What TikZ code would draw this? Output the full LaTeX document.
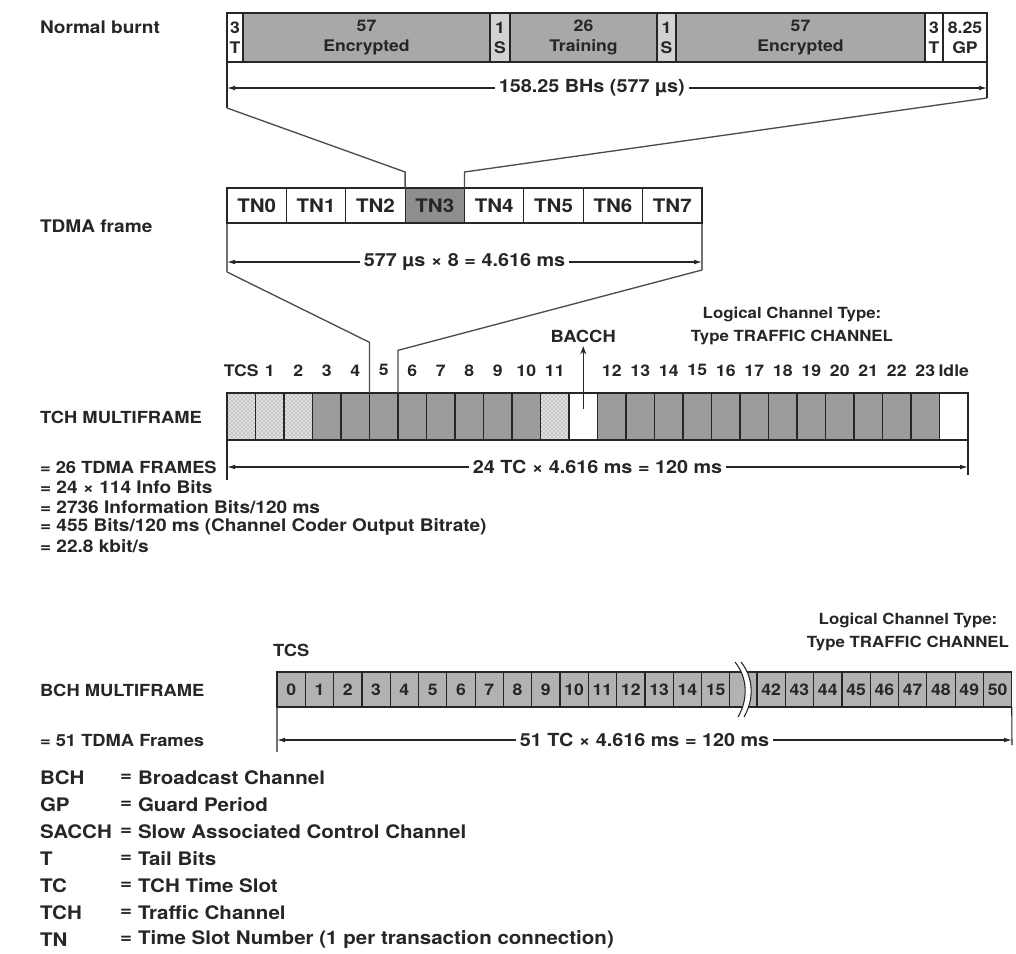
\documentclass[tikz,border=0pt]{standalone}
\usepackage{fontspec}
\setmainfont{TeX Gyre Heros}[FakeStretch=1.1]
\usetikzlibrary{arrows.meta, patterns, positioning}
\definecolor{burstgray}{HTML}{A8A8A8}
\definecolor{sgray}{HTML}{D2D2D2}
\definecolor{slotgray}{HTML}{8E8E8E}
\definecolor{tchgray}{HTML}{9C9C9C}
\definecolor{bchgray}{HTML}{B2B2B2}
\definecolor{inkgray}{HTML}{262626}

\begin{document}
\begin{tikzpicture}[x=0.75pt, y=-0.75pt,
  every node/.style={inner sep=0pt, outer sep=0pt, text=inkgray, font=\bfseries\fontsize{12.5}{14}\selectfont},
  lbl/.style={anchor=west, font=\bfseries\fontsize{13}{15}\selectfont},
  biglbl/.style={anchor=west, font=\bfseries\fontsize{13}{15}\selectfont},
  caplbl/.style={anchor=west, font=\bfseries\fontsize{12.5}{14}\selectfont},
  leg/.style={anchor=west, font=\bfseries\fontsize{14}{16}\selectfont},
  bcell/.style={draw=inkgray, line width=0.9pt, align=center, minimum height=36.75pt, font=\bfseries\fontsize{12}{15}\selectfont},
  tcell/.style={draw=inkgray, line width=0.9pt, minimum width=44.53pt, minimum height=26.25pt, font=\bfseries\fontsize{14}{16}\selectfont},
  hcell/.style={draw=inkgray, line width=0.9pt, minimum width=21.375pt, minimum height=35.25pt},
  num/.style={font=\bfseries\fontsize{12}{14}\selectfont},
  ccell/.style={draw=inkgray, line width=0.9pt, fill=bchgray, minimum width=21.225pt, minimum height=26.25pt, font=\bfseries\fontsize{12}{14}\selectfont},
  ext/.style={draw=inkgray, line width=0.8pt},
  dim/.style={draw=inkgray, line width=0.8pt, {Latex[length=6pt,width=3.5pt]}-{Latex[length=6pt,width=3.5pt]}},
  dimtxt/.style={fill=white, inner xsep=3pt, inner ysep=1pt, font=\bfseries\fontsize{13.5}{15}\selectfont},
  conn/.style={draw=black!70, line width=1pt},
  twoline/.style={align=center, font=\bfseries\fontsize{11.5}{17}\selectfont}
]
\useasboundingbox (0,0) rectangle (1016,953);

% normal burst
\node[biglbl] (nb) at (40,27) {Normal burnt};
\foreach \xa/\xb/\txt/\col [count=\i] in {227/243/{3\\T}/white, 243/490/{57\\Encrypted}/burstgray, 490/510/{1\\S}/sgray, 510/657/{26\\Training}/burstgray, 657/676/{1\\S}/sgray, 676/925/{57\\Encrypted}/burstgray, 925/943/{3\\T}/white, 943/987/{8.25\\GP}/white}
  \node[bcell, fill=\col, minimum width={(\xb-\xa)*0.75pt}] (b\i) at ({(\xa+\xb)/2},37.5) {\txt};
\coordinate (bL) at (227,108);
\coordinate (bR) at (987,98);
\draw[ext] (b1.south west) -- (bL);
\draw[ext] (b8.south east) -- (bR);
\coordinate (bdL) at (227,88);
\coordinate (bdR) at (987,88);
\draw[dim] (bdL) -- node[dimtxt, pos=0.48] {158.25 BHs (577 µs)} (bdR);

% TDMA frame
\node[biglbl] (tf) at (40,226) {TDMA frame};
\foreach \i/\col in {0/white,1/white,2/white,3/slotgray,4/white,5/white,6/white,7/white}
  \node[tcell, fill=\col] (t\i) at ({227+59.375*(\i+0.5)},205.5) {TN\i};
\draw[conn] (bL) -- ([yshift=12pt]t3.north west) -- (t3.north west);
\draw[conn] (bR) -- ([yshift=12pt]t3.north east) -- (t3.north east);
\coordinate (tL) at (227,272);
\coordinate (tR) at (702,270);
\draw[ext] (t0.south west) -- (tL);
\draw[ext] (t7.south east) -- (tR);
\coordinate (tdL) at (227,262);
\coordinate (tdR) at (702,262);
\draw[dim] (tdL) -- node[dimtxt] {577 µs × 8 = 4.616 ms} (tdR);

% TCH multiframe
\node[caplbl] (tm) at (40,417) {TCH MULTIFRAME};
\foreach \i in {0,1,2,11}
  \node[hcell, preaction={fill=black!12}, pattern=crosshatch dots, pattern color=black!55] (h\i) at ({227+28.5*(\i+0.5)},416.5) {};
\foreach \i in {3,...,10}
  \node[hcell, fill=tchgray] (h\i) at ({227+28.5*(\i+0.5)},416.5) {};
\foreach \i in {13,...,24}
  \node[hcell, fill=tchgray] (h\i) at ({227+28.5*(\i+0.5)},416.5) {};
\foreach \i in {12,25}
  \node[hcell, fill=white] (h\i) at ({227+28.5*(\i+0.5)},416.5) {};
\node[num] (n0) at ([yshift=17pt]h0.north) {TCS};
\foreach \i in {1,...,11}
  \node[num] (n\i) at ([yshift=17pt]h\i.north) {\i};
\foreach \i [evaluate=\i as \j using int(\i-1)] in {13,...,24}
  \node[num] (n\i) at ([yshift=17pt]h\i.north) {\j};
\node[num] (n25) at ([yshift=17pt]h25.north) {Idle};
\node (bacch) at (h12.north |- 0,336) {BACCH};
\coordinate (bq) at ([yshift=-12pt]h12.north);
\draw[draw=inkgray, line width=0.9pt, -{Stealth[length=6pt,width=4.5pt]}] (bq) -- ([yshift=-3pt]bacch.south);
\node[twoline] (lct1) at (792,326) {Logical Channel Type:\\Type TRAFFIC CHANNEL};
\draw[conn] (tL) -- ([yshift=38pt]h5.north west) -- (h5.north west);
\draw[conn] (tR) -- ([yshift=32pt]h5.north east) -- (h5.north east);
\coordinate (hL) at (227,480);
\coordinate (hR) at (968,475);
\draw[ext] (h0.south west) -- (hL);
\draw[ext] (h25.south east) -- (hR);
\coordinate (hdL) at (227,467);
\coordinate (hdR) at (968,467);
\draw[dim] (hdL) -- node[dimtxt] {24 TC × 4.616 ms = 120 ms} (hdR);
\node[caplbl] (f26) at (40,467) {= 26 TDMA FRAMES};
\node[lbl] (i1) at (40,487) {= 24 × 114 Info Bits};
\node[lbl] (i2) at (40,507) {= 2736 Information Bits/120 ms};
\node[lbl] (i3) at (40,527) {= 455 Bits/120 ms (Channel Coder Output Bitrate)};
\node[lbl] (i4) at (40,546) {= 22.8 kbit/s};

% BCH multiframe
\node[twoline] (lct2) at (908,632) {Logical Channel Type:\\Type TRAFFIC CHANNEL};
\node[caplbl] (bm) at (40,690) {BCH MULTIFRAME};
\foreach \i in {0,...,15}
  \node[ccell] (c\i) at ({277+28.3*(\i+0.5)},689.5) {\i};
\node[ccell, minimum width=20.4pt] (brk) at (743.4,689.5) {};
\foreach \i [count=\k from 0] in {42,...,50}
  \node[ccell] (c\i) at ({757+28.3*(\k+0.5)},689.5) {\i};
% break mark
\fill[white] (735,662) .. controls (748,678) and (748,700) .. (738,717) -- (744,717) .. controls (754,700) and (754,678) .. (741,662) -- cycle;
\draw[ext] (735,662) .. controls (748,678) and (748,700) .. (738,717);
\draw[ext] (741,662) .. controls (754,678) and (754,700) .. (744,717);
\node (tcs2) at ([yshift=16.5pt]c0.north) {TCS};
\coordinate (cL) at (277,752);
\coordinate (cR) at (1012,745);
\draw[ext] (c0.south west) -- (cL);
\draw[ext] (c50.south east) -- (cR);
\coordinate (cdL) at (277,740);
\coordinate (cdR) at (1012,740);
\draw[dim] (cdL) -- node[dimtxt] {51 TC × 4.616 ms = 120 ms} (cdR);
\node[caplbl] (f51) at (40,740) {= 51 TDMA Frames};

% legend
\foreach \ab/\de [count=\k from 0] in {BCH/Broadcast Channel, GP/Guard Period, SACCH/Slow Associated Control Channel, T/Tail Bits, TC/TCH Time Slot, TCH/Traffic Channel, TN/Time Slot Number (1 per transaction connection)} {
  \node[leg] (ab\k) at (40,{778+27*\k}) {\ab};
  \node[leg] (eq\k) at (120,{778+27*\k}) {=};
  \node[leg] (de\k) at (138,{778+27*\k}) {\de};
}
\end{tikzpicture}
\end{document}
